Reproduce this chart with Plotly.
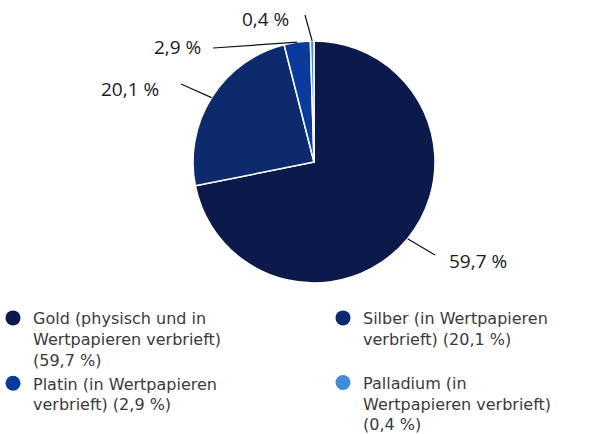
import math
import plotly.graph_objects as go

# ---- data ----
categories = [
    "Gold (physisch und in<br>Wertpapieren verbrieft)<br>(59,7 %)",
    "Silber (in Wertpapieren<br>verbrieft) (20,1 %)",
    "Platin (in Wertpapieren<br>verbrieft) (2,9 %)",
    "Palladium (in<br>Wertpapieren verbrieft)<br>(0,4 %)",
]
values = [59.7, 20.1, 2.9, 0.4]
value_labels = ["59,7 %", "20,1 %", "2,9 %", "0,4 %"]
colors = ["#0b1a4b", "#0c2a6c", "#0a3a9c", "#3f8cd8"]
legend_column = ["legend", "legend2", "legend", "legend2"]

W, H = 597, 434
CX, CY, R = 314, 162, 121
LABEL_FONT = "Open Sans"
LEGEND_FONT = "DejaVu Sans"

fig = go.Figure()
fig.add_trace(go.Pie(
    values=values, labels=categories, sort=False, direction="clockwise",
    rotation=0, textinfo="none", hoverinfo="label+value",
    marker=dict(colors=colors, line=dict(color="white", width=1.5)),
    domain=dict(x=[(CX - R) / W, (CX + R) / W], y=[1 - (CY + R) / H, 1 - (CY - R) / H]),
    showlegend=False,
))

# legend entries (circle markers), two columns
for i, (name, col, lg) in enumerate(zip(categories, colors, legend_column)):
    fig.add_trace(go.Scatter(x=[None], y=[None], mode="markers", name=name,
                             legend=lg, legendgroup=f"g{i}",
                             marker=dict(symbol="circle", size=15, color=col)))

def px(x, y):
    return x / W, 1 - y / H

# label layout: (text anchor x, y, xanchor, line end x, line end y)
label_layout = [
    (447, 261, "left", 435, 255),
    (161, 89, "right", 181, 84),
    (203, 47, "right", 213, 48),
    (291, 19, "right", 305, 15),
]

total = sum(values)
cum = 0
shapes, annotations = [], []
for v, lab, lay in zip(values, value_labels, label_layout):
    mid = (cum + v / 2) / total * 2 * math.pi
    cum += v
    sx = CX + R * math.sin(mid)
    sy = CY - R * math.cos(mid)
    tx, ty, xa, ex, ey = lay
    x0, y0 = px(sx, sy)
    x1, y1 = px(ex, ey)
    shapes.append(dict(type="line", xref="paper", yref="paper", x0=x0, y0=y0, x1=x1, y1=y1,
                       line=dict(color="#111111", width=1.2)))
    ax_, ay_ = px(tx, ty)
    annotations.append(dict(x=ax_, y=ay_, xref="paper", yref="paper", text=lab, showarrow=False,
                            xanchor=xa, yanchor="middle",
                            font=dict(family=LABEL_FONT, size=19, color="#1a1a1a")))

legend_font = dict(family=LEGEND_FONT, size=16, color="#3a3a3a")
fig.update_layout(
    width=W, height=H,
    margin=dict(l=0, r=0, t=0, b=0, autoexpand=False),
    paper_bgcolor="white", plot_bgcolor="white",
    xaxis=dict(visible=False), yaxis=dict(visible=False),
    shapes=shapes, annotations=annotations,
    legend=dict(orientation="v", x=-7 / W, xanchor="left", y=1 - 301 / H, yanchor="top",
                valign="top", font=legend_font, itemwidth=30, tracegroupgap=0,
                bgcolor="rgba(0,0,0,0)"),
    legend2=dict(orientation="v", x=323 / W, xanchor="left", y=1 - 301 / H, yanchor="top",
                 valign="top", font=legend_font, itemwidth=30, tracegroupgap=20,
                 bgcolor="rgba(0,0,0,0)"),
    font=dict(family=LABEL_FONT),
)

fig.write_html("out.html", config={"displayModeBar": False},
               post_script="document.body.style.margin='0';document.body.style.overflow='hidden';")
